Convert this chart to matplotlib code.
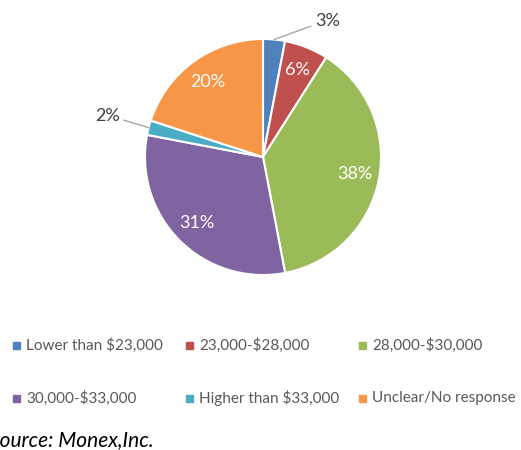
import numpy as np
import matplotlib
matplotlib.use("Agg")
import matplotlib.pyplot as plt
from matplotlib.patches import Rectangle

plt.rcParams['font.family'] = ['Lato', 'DejaVu Sans']

categories = ["Lower than $23,000", "23,000-$28,000", "28,000-$30,000",
              "30,000-$33,000", "Higher than $33,000", "Unclear/No response"]
shares = [3, 6, 38, 31, 2, 20]
colors = ["#4F81BD", "#C0504D", "#9BBB59", "#8064A2", "#4BACC6", "#F79646"]
source = "Source: Monex,Inc."

W, H = 521, 450
fig = plt.figure(figsize=(W / 100, H / 100), dpi=100)

# pie centre and radius in pixels
cx, cy, r = 263, 157, 118
ax = fig.add_axes([(cx - r) / W, (H - cy - r) / H, 2 * r / W, 2 * r / H])
wedges, _ = ax.pie(shares, colors=colors, startangle=90, counterclock=False,
                   wedgeprops=dict(edgecolor="white", linewidth=1.5))
ax.set_xlim(-1, 1)
ax.set_ylim(-1, 1)
ax.set_aspect("auto")
ax.axis("off")

# labels
outside = {0: ((0.44, 1.155), "left", (0, 0.25)),
           4: ((-1.215, 0.35), "right", (1, 0.3))}
for i, (w, v) in enumerate(zip(wedges, shares)):
    ang = np.deg2rad((w.theta1 + w.theta2) / 2)
    if i in outside:
        pos, ha, rp = outside[i]
        ax.annotate(f"{v}%", xy=(np.cos(ang), np.sin(ang)), xytext=pos,
                    ha=ha, va="center", fontsize=13, color="#404040",
                    annotation_clip=False,
                    arrowprops=dict(arrowstyle="-", color="#A6A6A6", lw=1,
                                    shrinkA=1, shrinkB=0, relpos=rp))
    else:
        d = 0.79
        ax.text(d * np.cos(ang), d * np.sin(ang), f"{v}%", ha="center",
                va="center", fontsize=13, color="white")

# legend, laid out as a 3x2 grid
col_x = [13, 186, 359]
row_y = [345, 398]
for i, (lab, col) in enumerate(zip(categories, colors)):
    x = col_x[i % 3]
    y = row_y[i // 3]
    fig.patches.append(Rectangle(((x) / W, (H - y - 3.5) / H), 7 / W, 7 / H,
                                 transform=fig.transFigure, color=col))
    fig.text((x + 13) / W, (H - y) / H, lab, ha="left", va="center",
             fontsize=11, color="#595959")

fig.text(-11 / W, (H - 446) / H, source, ha="left", va="baseline",
         fontsize=15, style="italic", color="black")

fig.savefig("out.png", dpi=100)
